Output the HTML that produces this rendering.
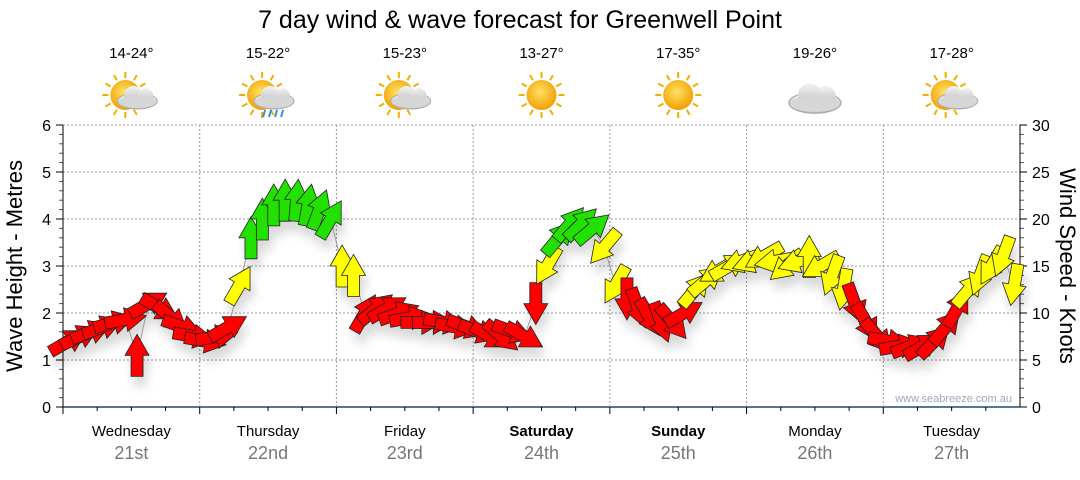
<!DOCTYPE html>
<html><head><meta charset="utf-8"><style>
body{margin:0;background:#fff;font-family:"Liberation Sans",sans-serif}
</style></head><body>
<svg id="c" width="1080" height="475" xmlns="http://www.w3.org/2000/svg" font-family="Liberation Sans, sans-serif">
<defs>
<filter id="sh" x="-50%" y="-50%" width="200%" height="200%"><feDropShadow dx="3" dy="10" stdDeviation="5" flood-color="#000" flood-opacity="0.15"/></filter>
<radialGradient id="sun" cx="0.45" cy="0.4" r="0.6"><stop offset="0" stop-color="#ffe066"/><stop offset="1" stop-color="#f0a000"/></radialGradient>
<linearGradient id="cl" x1="0" y1="0" x2="0" y2="1"><stop offset="0" stop-color="#f4f4f4"/><stop offset="1" stop-color="#b8b8b8"/></linearGradient>
</defs>
<text x="520" y="28" font-size="25" text-anchor="middle">7 day wind &amp; wave forecast for Greenwell Point</text>
<g id="axes"></g>
<g id="icons"></g>
<g id="marks" filter="url(#sh)"></g>
<text x="1012" y="402" font-size="11" fill="#a0a8b8" text-anchor="end">www.seabreeze.com.au</text>
<text transform="translate(22,266) rotate(-90)" font-size="22" text-anchor="middle">Wave Height - Metres</text>
<text transform="translate(1060,266) rotate(90)" font-size="22" text-anchor="middle">Wind Speed - Knots</text>
</svg>
<script>
const days=["Wednesday","Thursday","Friday","Saturday","Sunday","Monday","Tuesday"];
const dates=["21st","22nd","23rd","24th","25th","26th","27th"];
const temps=["14-24°","15-22°","15-23°","13-27°","17-35°","19-26°","17-28°"];
const weather=["partly","rain","partly","sun","sun","cloud","partly"];
const waveTicks=[0,1,2,3,4,5,6];
const windTicks=[0,5,10,15,20,25,30];
const windSpeed=[7,7.5,8,8.5,9,9.3,5.5,11,10.5,9.5,8.5,7.5,
 7,7.5,8.5,13,18,20,21.5,22,22,21.5,21,20,
 15,14,10,10.5,10.5,10,9.5,9,9,9,8.5,8.5,
 8,7.5,7.5,8,7.5,11,15,18,19.5,19.5,19,17,
 13,11.5,10.5,9.5,9,9,10,12.5,13.5,14.5,15,15.5,
 15.5,16,15.5,15,15.5,16,15,14,12.5,11,9,7.5,
 7,6.5,6.5,6.5,7,8.5,10.5,12.5,14,15,16,13];
const windDir=[60,65,70,70,75,80,0,60,120,130,110,100,
 100,80,60,30,0,0,0,0,5,10,20,30,
 0,0,30,50,60,70,80,90,90,100,100,110,
 110,120,130,110,120,180,210,40,40,45,50,220,
 210,180,160,150,160,140,60,40,50,240,60,250,
 250,240,260,230,250,0,240,200,190,160,150,140,
 100,80,70,60,45,40,30,40,200,210,200,190];
const X0=63,X1=1020,Y0=407,Y1=125;
const dayW=(X1-X0)/7;
const xT=t=>X0+t*dayW;
const yW=v=>Y0-(v/6)*(Y0-Y1);
const yK=v=>Y0-(v/30)*(Y0-Y1);
const NS="http://www.w3.org/2000/svg";
function mk(tag,at,parent){const e=document.createElementNS(NS,tag);for(const k in at)e.setAttribute(k,at[k]);parent.appendChild(e);return e;}
const ax=document.getElementById('axes');
waveTicks.forEach(v=>{if(v>0){const l=mk('line',{x1:X0,x2:X1,y1:yW(v),y2:yW(v),stroke:'#999','stroke-dasharray':'2,2'},ax);

}
const t=mk('text',{x:X0-12,y:yW(v)+6,'font-size':16,'text-anchor':'end'},ax);t.textContent=v;


mk('line',{x1:X0-7,x2:X0,y1:yW(v),y2:yW(v),stroke:'#000'},ax);
if(v<6)for(let m=1;m<5;m++)mk('line',{x1:X0-4,x2:X0,y1:yW(v+m*0.2),y2:yW(v+m*0.2),stroke:'#555'},ax);});
windTicks.forEach(v=>{const t=mk('text',{x:X1+12,y:yK(v)+6,'font-size':16},ax);t.textContent=v;


mk('line',{x1:X1,x2:X1+7,y1:yK(v),y2:yK(v),stroke:'#000'},ax);
if(v<30)for(let m=1;m<5;m++)mk('line',{x1:X1,x2:X1+4,y1:yK(v+m),y2:yK(v+m),stroke:'#555'},ax);});
mk('line',{x1:X0,x2:X0,y1:Y1,y2:Y0,stroke:'#000'},ax);
mk('line',{x1:X1,x2:X1,y1:Y1,y2:Y0,stroke:'#000'},ax);
mk('line',{x1:X0,x2:X1,y1:Y0,y2:Y0,stroke:'#1a4a7a','stroke-width':1.5},ax);
for(let d=0;d<7;d++){
 if(d>0)mk('line',{x1:xT(d),x2:xT(d),y1:Y1,y2:Y0,stroke:'#999','stroke-dasharray':'2,2'},ax);
 mk('line',{x1:xT(d),x2:xT(d),y1:Y0,y2:Y0+7,stroke:'#000'},ax);
 for(let q=1;q<4;q++)mk('line',{x1:xT(d+q/4),x2:xT(d+q/4),y1:Y0,y2:Y0+4,stroke:'#000'},ax);
 const cx=xT(d+0.5);
 const a=mk('text',{x:cx,y:436,'font-size':15,'text-anchor':'middle','font-weight':(d==3||d==4)?'bold':'normal'},ax);a.textContent=days[d];
 
 
 const b=mk('text',{x:cx,y:459,'font-size':18,'text-anchor':'middle',fill:'#777'},ax);b.textContent=dates[d];
 
 
 const tt=mk('text',{x:cx,y:58,'font-size':15,'text-anchor':'middle'},ax);tt.textContent=temps[d];
 
 
 const ic=mk('g',{transform:`translate(${cx},95)`},document.getElementById('icons'));
 
 
 const w=weather[d];
 if(w!="cloud"){const sx=w=="sun"?0:-6;
  for(let r=0;r<12;r++){const an=r*Math.PI/6;mk('line',{x1:sx+Math.cos(an)*17,y1:Math.sin(an)*17,x2:sx+Math.cos(an)*23,y2:Math.sin(an)*23,stroke:'#f0b000','stroke-width':2},ic);}
  mk('circle',{cx:sx,cy:0,r:15,fill:'url(#sun)'},ic);}
 if(w!="sun"){const ox=w=="cloud"?0:6, sc=w=="cloud"?1.3:1;
  const cg=mk('g',{transform:`translate(${ox},0) scale(${sc})`},ic);
  mk('ellipse',{cx:0,cy:6,rx:20,ry:8,fill:'url(#cl)',stroke:'#aaa'},cg);
  mk('circle',{cx:-4,cy:0,r:9,fill:'url(#cl)'},cg);
  mk('circle',{cx:8,cy:1,r:8,fill:'url(#cl)'},cg);
  mk('ellipse',{cx:0,cy:7,rx:19,ry:6,fill:'#d6d6d6'},cg);
  if(w=="rain")for(let r=0;r<4;r++)mk('line',{x1:ox-9+r*6,y1:15,x2:ox-11+r*6,y2:22,stroke:'#3a8ae0','stroke-width':2},ic);}
}
const mg=document.getElementById('marks');
const n=windSpeed.length;
const pts=windSpeed.map((s,i)=>[xT((i+0.5)*7/n),yK(s)]);
const pl=mk('polyline',{points:pts.map(p=>p.join(',')).join(' '),fill:'none',stroke:'#999','stroke-width':1},mg);


windSpeed.forEach((s,i)=>{
 const [x,y]=pts[i];
 const col=s>=17.5?'#22e000':s>=12?'#ffff00':'#ff0000';
 const p=mk('polygon',{points:'-6,21 6,21 6,0 12,0 0,-21 -12,0 -6,0',fill:col,stroke:'#222','stroke-width':0.8,transform:`translate(${x},${y}) rotate(${windDir[i]})`},mg);
 
 
});
</script>
</body></html>
